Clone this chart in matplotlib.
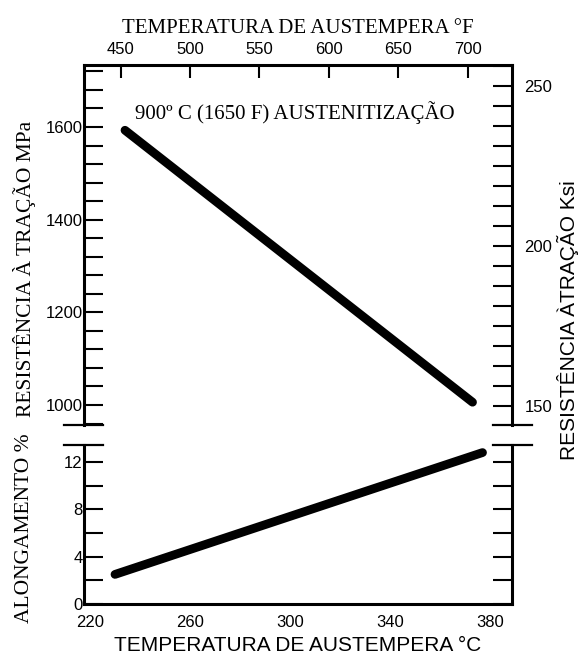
import matplotlib
matplotlib.use("Agg")
import matplotlib.pyplot as plt
from matplotlib.ticker import MultipleLocator
from matplotlib.lines import Line2D

# austempering temperature (C) at both ends of each straight curve
temp_tensile = [234, 373]
tensile_mpa = [1593, 1006]
temp_elong = [230, 377]
elongation = [2.5, 12.8]

c_ticks = [220, 260, 300, 340, 380]
f_ticks = [450, 500, 550, 600, 650, 700]
mpa_ticks = [1000, 1200, 1400, 1600]
ksi_ticks = [150, 200, 250]
elong_ticks = [0, 4, 8, 12]

SERIF = "Liberation Serif"
SANS = "Liberation Sans"
plt.rcParams["font.family"] = [SANS, "DejaVu Sans"]


def c2f(c):
    return c * 9.0 / 5.0 + 32


def f2c(f):
    return (f - 32) * 5.0 / 9.0


fig = plt.figure(figsize=(5.8, 6.58), dpi=100)
ax_up = fig.add_axes([0.1448, 0.3541, 0.7380, 0.5471])
ax_lo = fig.add_axes([0.1448, 0.0821, 0.7380, 0.2416], sharex=ax_up)
ax_ksi = ax_up.twinx()

ax_up.plot(temp_tensile, tensile_mpa, color="k", lw=6.3, solid_capstyle="round")
ax_lo.plot(temp_elong, elongation, color="k", lw=6.3, solid_capstyle="round")

ax_up.set_xlim(217.6, 388.8)
ax_up.set_ylim(956.8, 1733.8)
ax_ksi.set_ylim(144.1, 256.6)
ax_lo.set_ylim(0, 13.44)

# upper panel, MPa on the left
ax_up.set_yticks(mpa_ticks)
ax_up.yaxis.set_minor_locator(MultipleLocator(40))
ax_up.tick_params(axis="y", which="both", direction="in", length=13.5, width=1.5,
                  labelsize=12, pad=1, left=True, right=False)
ax_up.tick_params(axis="x", which="both", bottom=False, labelbottom=False, top=False)

# ksi on the right
ax_ksi.set_yticks(ksi_ticks)
ax_ksi.yaxis.set_minor_locator(MultipleLocator(6.25))
ax_ksi.tick_params(axis="y", which="both", direction="in", length=13.5, width=1.5,
                   labelsize=12, pad=9)

# Fahrenheit on top
sec = ax_up.secondary_xaxis("top", functions=(c2f, f2c))
sec.set_xticks(f_ticks)
sec.tick_params(direction="in", length=9.5, width=1.5, labelsize=12, pad=6)
sec.set_xlabel("TEMPERATURA DE AUSTEMPERA °F", fontfamily=SERIF, fontsize=15, labelpad=6)
sec.spines["top"].set_linewidth(2.2)

# lower panel, elongation
ax_lo.set_yticks(elong_ticks)
ax_lo.yaxis.set_minor_locator(MultipleLocator(2))
ax_lo.tick_params(axis="y", which="both", direction="in", length=13.5, width=1.5,
                  left=True, right=True, labelright=False, labelsize=12, pad=1)
ax_lo.set_xticks(c_ticks)
ax_lo.tick_params(axis="x", length=0, labelsize=12, pad=8)
ax_lo.set_xlabel("TEMPERATURA DE AUSTEMPERA °C", fontfamily=SANS, fontsize=15, labelpad=4)

ax_up.text(0.493, 0.869, "900º C (1650 F) AUSTENITIZAÇÃO", transform=ax_up.transAxes,
           ha="center", va="center", fontfamily=SERIF, fontsize=15)

ax_up.set_ylabel("RESISTÊNCIA À TRAÇÃO MPa", fontfamily=SERIF, fontsize=15.5, va="center")
ax_up.yaxis.set_label_coords(-0.138, 0.433)
ax_lo.set_ylabel("ALONGAMENTO %", fontfamily=SERIF, fontsize=15.5, va="center")
ax_lo.yaxis.set_label_coords(-0.138, 0.478)
ax_ksi.set_ylabel("RESISTÊNCIA ÀTRAÇÃO Ksi", fontfamily=SANS, fontsize=15, va="center")
ax_ksi.yaxis.set_label_coords(1.131, 0.292)

# spines: broken frame between the two panels
for s in ("bottom", "right", "top"):
    ax_up.spines[s].set_visible(False)
for s in ("bottom", "left", "top"):
    ax_ksi.spines[s].set_visible(False)
ax_lo.spines["top"].set_visible(False)
for sp in (ax_up.spines["left"], ax_ksi.spines["right"], ax_lo.spines["left"],
           ax_lo.spines["right"], ax_lo.spines["bottom"]):
    sp.set_linewidth(2.2)

for ax, y in ((ax_up, 0), (ax_lo, 1)):
    for x0, x1 in ((-0.047, 0.044), (0.956, 1.047)):
        ax.add_line(Line2D([x0, x1], [y, y], transform=ax.transAxes, color="k",
                           lw=1.6, clip_on=False))

fig.savefig("out.png", dpi=100)
